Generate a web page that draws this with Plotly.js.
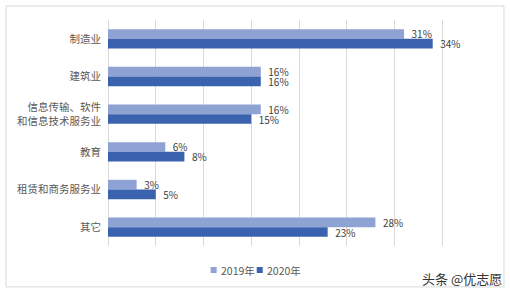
<!DOCTYPE html>
<html><head><meta charset="utf-8">
<script src="https://cdn.plot.ly/plotly-3.0.1.min.js"></script>
<style>html,body{margin:0;padding:0;background:#fff}#c{width:510px;height:292px}</style>
</head><body><div id="c"></div>
<script>
const categories = ['制造业', '建筑业', '信息传输、软件<br>和信息技术服务业', '教育', '租赁和商务服务业', '其它'];
const values2019 = [0.31, 0.16, 0.16, 0.06, 0.03, 0.28];
const values2020 = [0.34, 0.16, 0.15, 0.08, 0.05, 0.23];
const seriesNames = ['2019年', '2020年'];
const seriesColors = ['#8FA2D4', '#3A62AF'];

const F = '"Noto Sans CJK SC", "Microsoft YaHei", sans-serif';
const mk = (name, vals, color) => ({
  type: 'bar', orientation: 'h', name: name, x: vals, y: categories,
  marker: {color: color},
  texttemplate: '\u00a0\u00a0%{x:.0%}', textposition: 'outside', cliponaxis: false,
  constraintext: 'none',
  textfont: {family: F, size: 10, color: '#404040'},
  hoverinfo: 'skip'
});
const data = [mk(seriesNames[0], values2019, seriesColors[0]), mk(seriesNames[1], values2020, seriesColors[1])];

// custom compact legend (positions only; names/colours from the arrays above)
const legX = [0.2688, 0.3893];
const legendShapes = seriesNames.map((n, i) => ({
  type: 'rect', xref: 'paper', yref: 'paper', x0: legX[i], x1: legX[i] + 0.0157,
  y0: -0.1195, y1: -0.0929, line: {width: 0}, fillcolor: seriesColors[i]
}));
const legendText = seriesNames.map((n, i) => ({
  xref: 'paper', yref: 'paper', x: legX[i] + 0.0218, y: -0.1062, xanchor: 'left', yanchor: 'middle',
  text: n, showarrow: false, font: {family: F, size: 10.5, color: '#595959'}
}));

const layout = {
  width: 510, height: 292,
  margin: {l: 108, r: 20, t: 20, b: 46},
  paper_bgcolor: '#fff', plot_bgcolor: '#fff',
  barmode: 'group', bargap: 0.485, bargroupgap: 0,
  font: {family: F, color: '#595959'},
  xaxis: {range: [0, 0.40], dtick: 0.05, showticklabels: false, showgrid: true,
          gridcolor: '#D9D9D9', gridwidth: 1, zeroline: true, zerolinecolor: '#D9D9D9',
          zerolinewidth: 1, fixedrange: true},
  yaxis: {autorange: 'reversed', type: 'category', ticks: '', ticklabelstandoff: 6,
          tickfont: {family: F, size: 10.5, color: '#595959'}, showgrid: false, fixedrange: true},
  showlegend: false,
  shapes: [{type: 'rect', xref: 'paper', yref: 'paper', x0: -0.267, x1: 1.0366, y0: -0.181, y1: 1.062,
            line: {color: '#D9D9D9', width: 1}, fillcolor: 'rgba(0,0,0,0)', layer: 'below'}].concat(legendShapes),
  annotations: [{xref: 'paper', yref: 'paper', x: 0.927, y: -0.146, xanchor: 'center', yanchor: 'middle',
                 text: '头条 @优志愿', showarrow: false, font: {family: F, size: 13, color: '#333'}}].concat(legendText)
};
Plotly.newPlot('c', data, layout, {displayModeBar: false, staticPlot: true});
</script></body></html>
